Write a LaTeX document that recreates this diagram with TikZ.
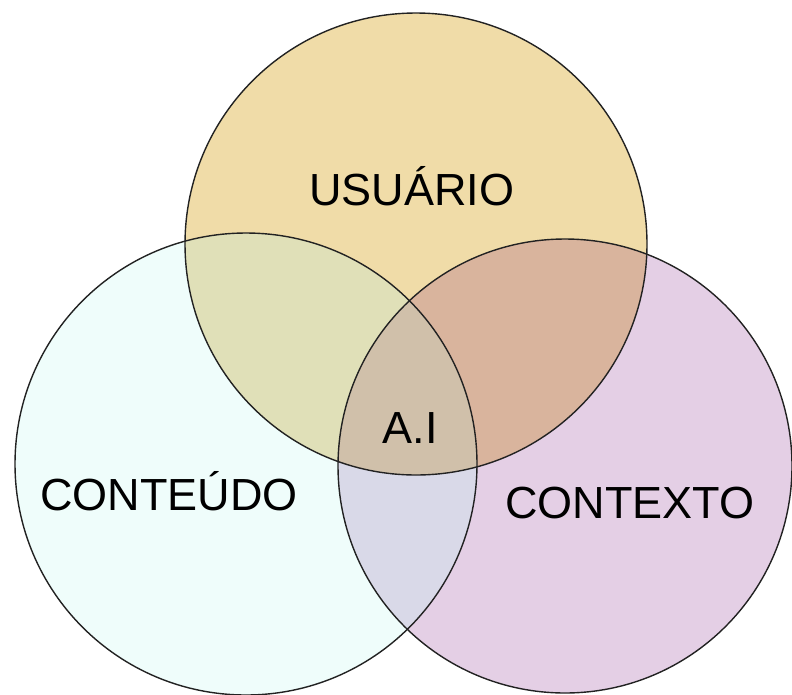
\documentclass[tikz,border=0pt]{standalone}
\usepackage{fontspec}
\setmainfont{Liberation Sans}
\definecolor{cTop}{HTML}{F0DCA8}
\definecolor{cLeft}{HTML}{EFFDFB}
\definecolor{cRight}{HTML}{E4CFE5}
\definecolor{cTL}{HTML}{E0E0B8}
\definecolor{cTR}{HTML}{D9B49D}
\definecolor{cLR}{HTML}{D9D9E8}
\definecolor{cAll}{HTML}{D0C0AA}
\definecolor{cLine}{HTML}{222222}
\begin{document}
\begin{tikzpicture}[x=1pt,y=-1pt,
  ring/.style={draw=cLine,line width=1.4pt},
  lbl/.style={font=\fontsize{45}{50}\selectfont,text=black,anchor=base,inner sep=0pt}]
\useasboundingbox (0,0) rectangle (792,694);
\clip (0,0) rectangle (792,694);
\def\Tc{(416,244) circle (231)}
\def\Lc{(246,464) circle (231)}
\def\Rc{(565,466) circle (227)}
\fill[cTop] \Tc;
\fill[cLeft] \Lc;
\fill[cRight] \Rc;
\begin{scope}\clip \Tc; \fill[cTL] \Lc; \fill[cTR] \Rc; \end{scope}
\begin{scope}\clip \Lc; \fill[cLR] \Rc; \end{scope}
\begin{scope}\clip \Tc; \clip \Lc; \fill[cAll] \Rc; \end{scope}
\draw[ring] \Tc;
\draw[ring] \Lc;
\draw[ring] \Rc;
\node[lbl] (usuario) at (412,205) {USUÁRIO};
\node[lbl] (conteudo) at (169,510) {CONTEÚDO};
\node[lbl] (contexto) at (630,518) {CONTEXTO};
\node[lbl] (ai) at (410,443) {A.I};
\end{tikzpicture}
\end{document}
